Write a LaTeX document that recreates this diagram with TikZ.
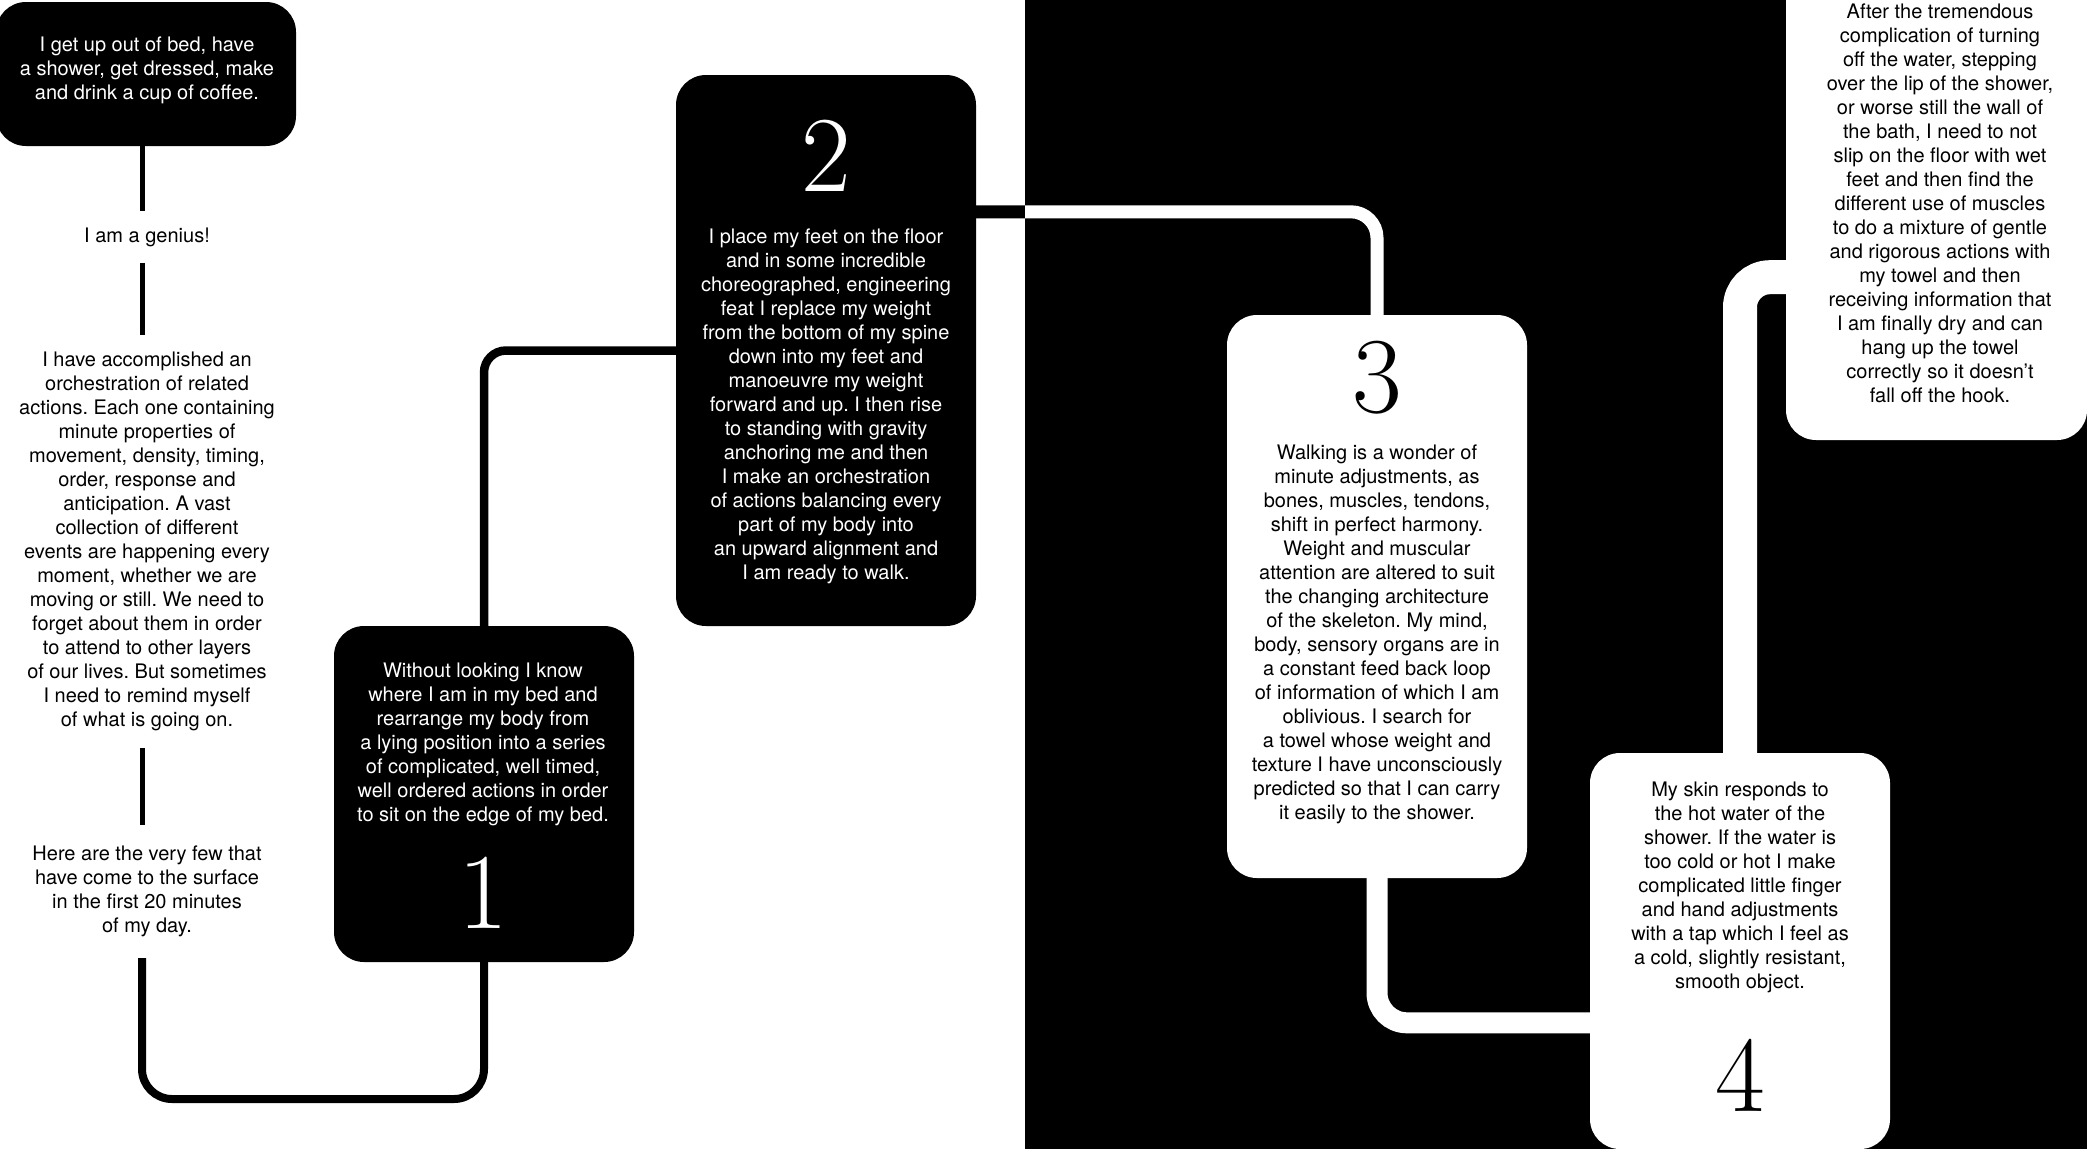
\documentclass[tikz,border=0pt]{standalone}
\usepackage{fontspec}
\setsansfont{TeX Gyre Heros}
\usetikzlibrary{calc}
\pgfdeclarelayer{back}
\pgfdeclarelayer{mid}
\pgfsetlayers{back,mid,main}
\frenchspacing
\begin{document}
\begin{tikzpicture}[x=1pt,y=-1pt,
  every node/.style={inner sep=0pt},
  darkbox/.style={fill=black, rounded corners=30pt, minimum width=300pt},
  lightbox/.style={fill=white, rounded corners=30pt, minimum width=300pt},
  body/.style={font=\sffamily\fontsize{20}{24}\selectfont\frenchspacing, align=center},
  numeral/.style={font=\rmfamily\fontsize{108}{108}\selectfont},
  thinline/.style={draw=black, line width=5pt},
]
\useasboundingbox (0,0) rectangle (2087,1149);
\begin{pgfonlayer}{back}
\fill[white] (0,0) rectangle (1025,1149);
\fill[black] (1025,0) rectangle (2087,1149);
\end{pgfonlayer}

% boxes
\node[darkbox, minimum height=144pt] (b0) at (146,74) {};
\node[darkbox, minimum height=336pt] (b1) at (484,794) {};
\node[darkbox, minimum height=551pt] (b2) at (826,350.5) {};
\node[lightbox, minimum height=563pt] (b3) at (1377,596.5) {};
\node[lightbox, minimum height=396pt] (b4) at (1740,951) {};
\node[lightbox, minimum width=301pt, minimum height=480pt] (b5) at (1936.5,200) {};

% texts
\node[body, text=white] (t0) at (147,70) {I get up out of bed, have\\a shower, get dressed, make\\and drink a cup of coffee.};
\node[body, inner ysep=16pt] (genius) at (147,237) {I am a genius!};
\node[body, inner ysep=16.7pt] (para) at (147,541.6) {I have accomplished an\\orchestration of related\\actions. Each one containing\\minute properties of\\movement, density, timing,\\order, response and\\anticipation. A vast\\collection of different\\events are happening every\\moment, whether we are\\moving or still. We need to\\forget about them in order\\to attend to other layers\\of our lives. But sometimes\\I need to remind myself\\of what is going on.};
\node[body, inner ysep=20.7pt] (here) at (147,891.6) {Here are the very few that\\have come to the surface\\in the first 20 minutes\\of my day.};

\node[body, text=white] (t1) at (483,744.5) {Without looking I know\\where I am in my bed and\\rearrange my body from\\a lying position into a series\\of complicated, well timed,\\well ordered actions in order\\to sit on the edge of my bed.};
\node[numeral, text=white] (n1) at (483,893) {1};

\node[numeral, text=white] (n2) at (826,156) {2};
\node[body, text=white] (t2) at (826,406) {I place my feet on the floor\\and in some incredible\\choreographed, engineering\\feat I replace my weight\\from the bottom of my spine\\down into my feet and\\manoeuvre my weight\\forward and up. I then rise\\to standing with gravity\\anchoring me and then\\I make an orchestration\\of actions balancing every\\part of my body into\\an upward alignment and\\I am ready to walk.};

\node[numeral] (n3) at (1377,378) {3};
\node[body] (t3) at (1377,634.5) {Walking is a wonder of\\minute adjustments, as\\bones, muscles, tendons,\\shift in perfect harmony.\\Weight and muscular\\attention are altered to suit\\the changing architecture\\of the skeleton. My mind,\\body, sensory organs are in\\a constant feed back loop\\of information of which I am\\oblivious. I search for\\a towel whose weight and\\texture I have unconsciously\\predicted so that I can carry\\it easily to the shower.};

\node[body] (t4) at (1740,887.5) {My skin responds to\\the hot water of the\\shower. If the water is\\too cold or hot I make\\complicated little finger\\and hand adjustments\\with a tap which I feel as\\a cold, slightly resistant,\\smooth object.};
\node[numeral] (n4) at (1740,1075) {4};

\node[body] (t5) at (1940,203) {After the tremendous\\complication of turning\\off the water, stepping\\over the lip of the shower,\\or worse still the wall of\\the bath, I need to not\\slip on the floor with wet\\feet and then find the\\different use of muscles\\to do a mixture of gentle\\and rigorous actions with\\my towel and then\\receiving information that\\I am finally dry and can\\hang up the towel\\correctly so it doesn't\\fall off the hook.};

\coordinate (col) at (142,0);
\coordinate (ubot) at (0,1099);
\path (b2.north east) ++(0,137) coordinate (c23);
\path (b4.north west) ++(0,270) coordinate (c34);
\path (b5.south west) ++(0,-163) coordinate (c45);

\begin{pgfonlayer}{mid}
\draw[thinline] (b0.south -| col) -- (genius.north -| col);
\draw[thinline] (genius.south -| col) -- (para.north -| col);
\draw[thinline] (para.south -| col) -- (here.north -| col);
\draw[black, line width=8pt, rounded corners=30pt] (here.south -| col) -- (col |- ubot) -- (b1.south |- ubot) -- (b1.south);
\draw[black, line width=8.5pt, rounded corners=22pt] (b1.north) |- (b2.west);
\begin{scope}
  \clip (0,0) rectangle (1025,1149);
  \draw[black, line width=13pt, rounded corners=26pt] (c23) -| (b3.north);
\end{scope}
\begin{scope}
  \clip (1025,0) rectangle (2087,1149);
  \draw[white, line width=13pt, rounded corners=26pt] (c23) -| (b3.north);
\end{scope}
\draw[white, line width=21pt, rounded corners=30pt] (b3.south) |- (c34);
\draw[white, line width=34pt, rounded corners=30pt] (b4.north) |- (c45);
\end{pgfonlayer}
\end{tikzpicture}
\end{document}
